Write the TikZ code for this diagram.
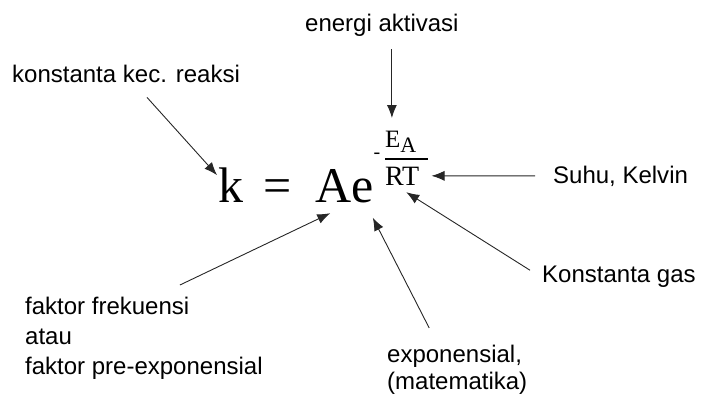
\documentclass[tikz,border=0pt]{standalone}
\usepackage{fontspec}
\setmainfont{Liberation Sans}
\newfontfamily\eqfont{Liberation Serif}
\usetikzlibrary{calc,arrows.meta}

\begin{document}
\begin{tikzpicture}[
    x=1pt, y=-1pt,
    lbl/.style={inner sep=0, anchor=base west, font=\fontsize{24}{30}\selectfont},
    sym/.style={inner sep=0, anchor=base west, font=\eqfont\fontsize{50}{50}\selectfont},
    small/.style={inner sep=0, anchor=base west, font=\eqfont\fontsize{26}{26}\selectfont},
    arr/.style={draw=black!85, line width=0.9pt, -{Latex[length=13pt,width=10pt]}},
]
\useasboundingbox (0,0) rectangle (703,396);

% Arrhenius equation
\node[sym] (k) at (218,202) {k};
\node[sym] (eq) at (263,202) {=};
\node[sym] (A) at (315,202) {A};
\node[sym, anchor=base west] (e) at (A.base east) {e};
\node[inner sep=0, font=\eqfont\fontsize{20}{20}\selectfont] (minus) at (377,156) {-};
\node[small, font=\eqfont\fontsize{25}{25}\selectfont] (ea) at (385,147) {E\raisebox{-5pt}{\fontsize{22}{22}\selectfont A}};
\draw[line width=1.3pt] (385,159) -- (428,159);
\node[small, font=\eqfont\fontsize{28}{28}\selectfont] (rt) at (385,185) {RT};

% Labels
\node[lbl] (lblk) at (12,82) {konstanta kec. reaksi};
\node[lbl] (lblea) at (305,32) {energi aktivasi};
\node[lbl] (lblsuhu) at (553,183) {Suhu, Kelvin};
\node[lbl] (lblgas) at (542,282) {Konstanta gas};
\node[lbl, anchor=north west, align=left] (lblfak) at (25,297) {faktor frekuensi\\atau\\faktor pre-exponensial};
\node[lbl, anchor=north west, align=left, font=\fontsize{24}{27}\selectfont] (lblexp) at (387,345) {exponensial,\\(matematika)};

% Arrows
\draw[arr] ($(lblk.south)+(21,15)$) -- ($(k.north west)+(-1,8)$);
\draw[arr] ($(lblea.south)+(10,12)$) coordinate (eatop) -- (eatop |- {(0,118)});
\draw[arr] ($(lblsuhu.west)+(-18,0)$) -- ($(rt.east)+(12,0)$);
\draw[arr] ($(lblgas.west)+(-12,-6)$) -- ($(rt.south)+(4,7)$);
\draw[arr] ($(lblfak.north)+(36,-12)$) -- ($(A.south)+(-3,11)$);
\draw[arr] ($(lblexp.north)+(-28,-17)$) -- ($(e.south)+(10,15)$);

\end{tikzpicture}
\end{document}
